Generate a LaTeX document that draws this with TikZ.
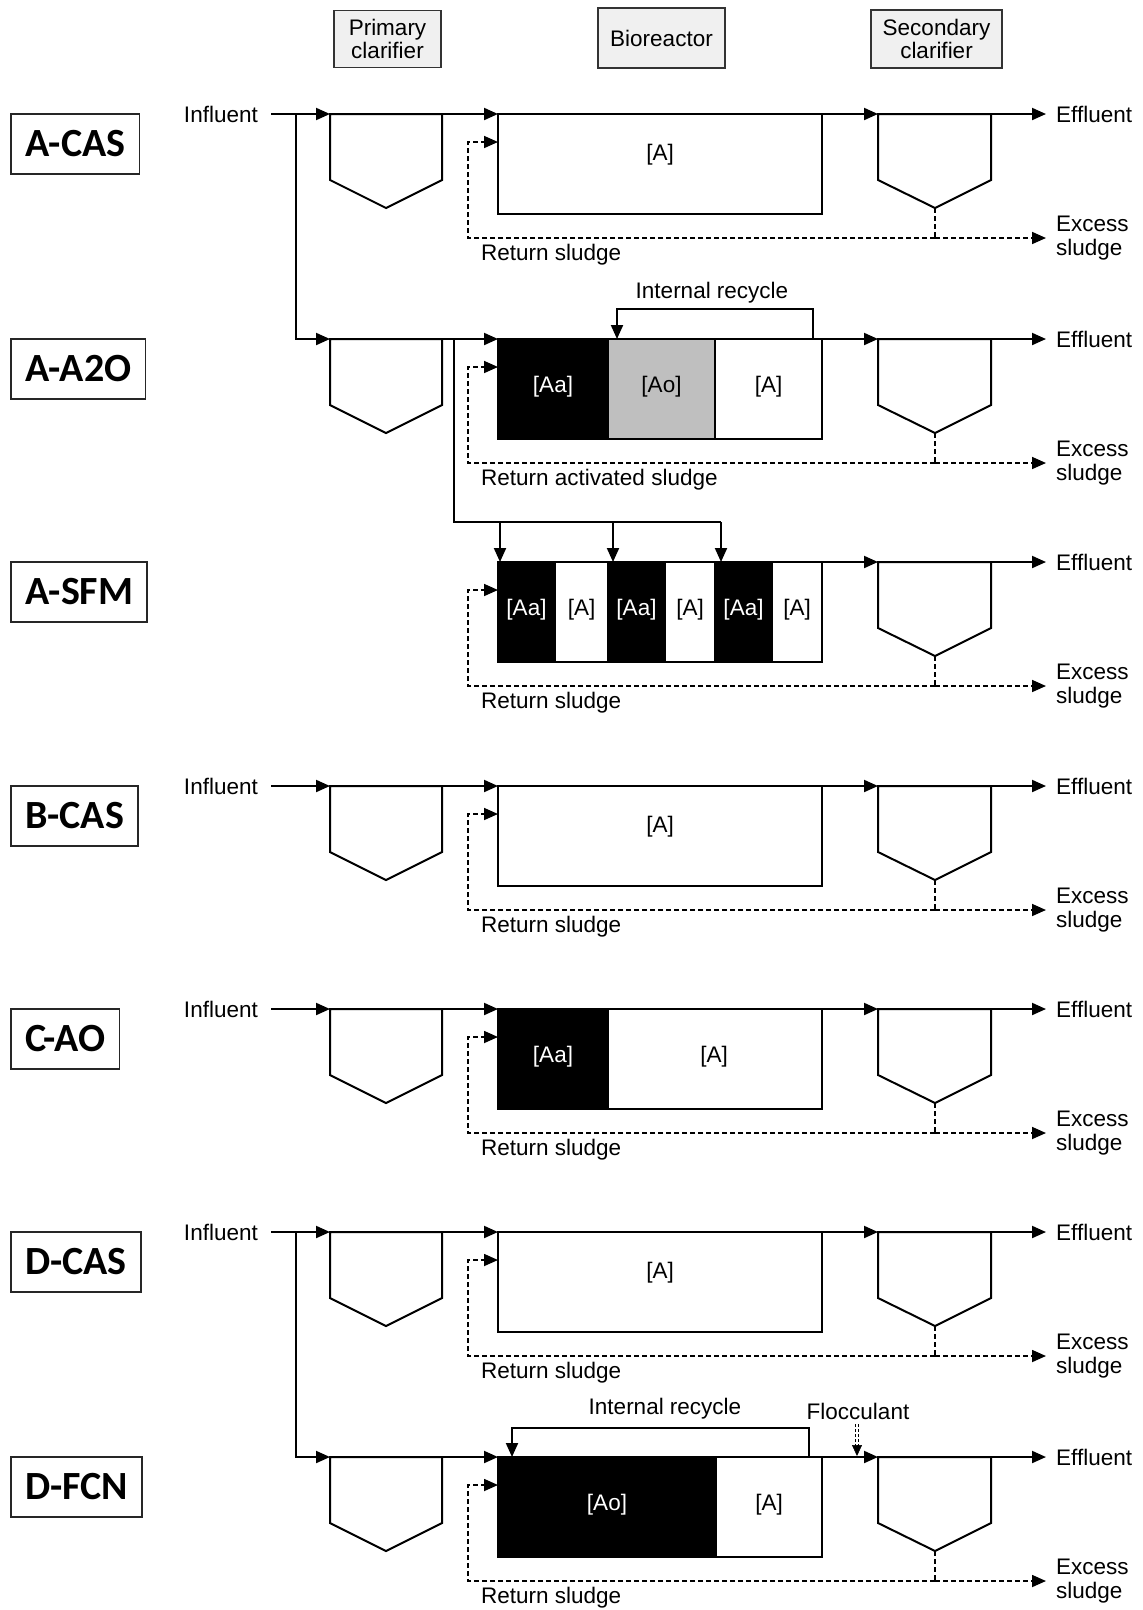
\documentclass[tikz,border=0pt]{standalone}
\usepackage{fontspec}
\setmainfont{Liberation Sans}
\newfontfamily\lblfont{Carlito}
\usetikzlibrary{arrows.meta}

\newcommand{\PrimC}[2]{%
  \coordinate (#1pi) at (330,#2);
  \coordinate (#1po) at (442,#2);
  \draw[ln] (#1pi) -- (330,#2+66) -- (386,#2+94) -- (442,#2+66) -- (#1po) -- cycle;}

\newcommand{\SecC}[2]{%
  \coordinate (#1si) at (878,#2);
  \coordinate (#1so) at (991,#2);
  \coordinate (#1sb) at (935,#2+94);
  \coordinate (#1j) at (935,#2+124);
  \draw[ln] (#1si) -- (878,#2+66) -- (#1sb) -- (991,#2+66) -- (#1so) -- cycle;
  \node[txt, anchor=west, inner xsep=10pt] (#1eff) at (1046,#2) {Effluent};
  \node[txt, anchor=west, inner xsep=10pt, align=left, font=\fontsize{22.5}{24}\selectfont] (#1exc) at (1046,#2+124) {Excess\\sludge};
  \draw[ln,arr] (#1so) -- (#1eff.west);
  \draw[dsh] (#1sb) -- (#1j);
  \draw[dsh,arr] (#1j) -- (#1exc.west);}

\newcommand{\RetLoop}[3]{%
  \coordinate (#1rt) at (498,#2+28);
  \draw[dsh,arr] (#1j) -| (468,#2+28) -- (#1rt);
  \node[txt, anchor=base west] (#1ret) at (481,#2+146) {#3};}

\newcommand{\Influent}[2]{%
  \node[txt, anchor=east, inner xsep=13pt] (#1inf) at (271,#2) {Influent};
  \draw[ln,arr] (#1inf.east) -- (#1pi);}

\begin{document}
\begin{tikzpicture}[x=1pt,y=-1pt,
  ln/.style={line width=2pt},
  dsh/.style={line width=1.7pt, dash pattern=on 5pt off 3pt},
  arr/.style={-{Triangle[length=14pt,width=12pt]}},
  txt/.style={font=\fontsize{22.5}{22}\selectfont, inner sep=0pt},
  hdr/.style={draw=black!80, line width=1.5pt, fill=black!6, align=center,
    font=\fontsize{22.5}{23}\selectfont, inner sep=0pt, outer sep=0pt},
  tag/.style={draw=black!85, line width=1.5pt, font=\lblfont\bfseries\fontsize{40}{40}\selectfont,
    anchor=north west, minimum height=60pt, inner xsep=14pt, inner ysep=0pt, outer sep=0pt},
  seg/.style={draw, line width=2pt, anchor=north west, minimum height=100pt, inner sep=0pt, outer sep=0pt},
  wt/.style={txt, text=white},
  fl/.style={line width=1pt, dash pattern=on 3pt off 2pt},
]
\useasboundingbox (0,0) rectangle (1143,1610);

% headers
\node[hdr, minimum width=107pt, minimum height=57pt] (hP) at (387.5,39) {Primary\\clarifier};
\node[hdr, minimum width=127pt, minimum height=60pt] (hB) at (661.5,38) {Bioreactor};
\node[hdr, minimum width=131pt, minimum height=58pt] (hS) at (936.5,39) {Secondary\\clarifier};

% tags
\node[tag] (tA1) at (11,114) {A-CAS};
\node[tag] (tA2) at (11,339) {A-A2O};
\node[tag] (tA3) at (11,562) {A-SFM};
\node[tag] (tB) at (11,786) {B-CAS};
\node[tag] (tC) at (11,1009) {C-AO};
\node[tag] (tD1) at (11,1232) {D-CAS};
\node[tag] (tD2) at (11,1457) {D-FCN};

% ---------- A-CAS
\PrimC{a1}{114}
\node[seg, minimum width=324pt] (a1b) at (498,114) {};
\node[txt] (a1l) at (660,155) {[A]};
\SecC{a1}{114}
\Influent{a1}{114}
\draw[ln,arr] (a1po) -- (a1b.north west);
\draw[ln,arr] (a1b.north east) -- (a1si);
\RetLoop{a1}{114}{Return sludge}
\coordinate (a1br) at (296,114);

% ---------- A-A2O
\PrimC{a2}{339}
\draw[ln,arr] (a1br) |- (a2pi);
\node[seg, fill=black, minimum width=110pt] (a2b1) at (498,339) {};
\node[seg, fill=black!25, minimum width=107pt] (a2b2) at (608,339) {};
\node[seg, minimum width=107pt] (a2b3) at (715,339) {};
\node[wt] (a2l1) at (553,387) {[Aa]};
\node[txt] (a2l2) at (661.5,387) {[Ao]};
\node[txt] (a2l3) at (768.5,387) {[A]};
\SecC{a2}{339}
\draw[ln,arr] (a2po) -- (a2b1.north west);
\draw[ln,arr] (a2b3.north east) -- (a2si);
\RetLoop{a2}{339}{Return activated sludge}
\coordinate (a2r1) at (813,339);
\coordinate (a2r2) at (617,339);
\draw[ln,arr] (a2r1) -- (813,309) -| (a2r2);
\node[txt] (a2irl) at (712,293) {Internal recycle};
\coordinate (a2br) at (454,339);

% ---------- A-SFM
\coordinate (a3f1) at (500,522);
\coordinate (a3f2) at (613,522);
\coordinate (a3f3) at (721,522);
\coordinate (a3t1) at (500,562);
\coordinate (a3t2) at (613,562);
\coordinate (a3t3) at (721,562);
\draw[ln] (a2br) |- (a3f3);
\draw[ln,arr] (a3f1) -- (a3t1);
\draw[ln,arr] (a3f2) -- (a3t2);
\draw[ln,arr] (a3f3) -- (a3t3);
\node[seg, fill=black, minimum width=57pt] (a3b1) at (498,562) {};
\node[seg, minimum width=53pt] (a3b2) at (555,562) {};
\node[seg, fill=black, minimum width=57pt] (a3b3) at (608,562) {};
\node[seg, minimum width=50pt] (a3b4) at (665,562) {};
\node[seg, fill=black, minimum width=57pt] (a3b5) at (715,562) {};
\node[seg, minimum width=50pt] (a3b6) at (772,562) {};
\node[wt] (a3l1) at (526.5,610) {[Aa]};
\node[txt] (a3l2) at (581.5,610) {[A]};
\node[wt] (a3l3) at (636.5,610) {[Aa]};
\node[txt] (a3l4) at (690,610) {[A]};
\node[wt] (a3l5) at (743.5,610) {[Aa]};
\node[txt] (a3l6) at (797,610) {[A]};
\SecC{a3}{562}
\draw[ln,arr] (a3b6.north east) -- (a3si);
\RetLoop{a3}{562}{Return sludge}

% ---------- B-CAS
\PrimC{b}{786}
\node[seg, minimum width=324pt] (bb) at (498,786) {};
\node[txt] (bl) at (660,827) {[A]};
\SecC{b}{786}
\Influent{b}{786}
\draw[ln,arr] (bpo) -- (bb.north west);
\draw[ln,arr] (bb.north east) -- (bsi);
\RetLoop{b}{786}{Return sludge}

% ---------- C-AO
\PrimC{c}{1009}
\node[seg, fill=black, minimum width=110pt] (cb1) at (498,1009) {};
\node[seg, minimum width=214pt] (cb2) at (608,1009) {};
\node[wt] (cl1) at (553,1057) {[Aa]};
\node[txt] (cl2) at (714,1057) {[A]};
\SecC{c}{1009}
\Influent{c}{1009}
\draw[ln,arr] (cpo) -- (cb1.north west);
\draw[ln,arr] (cb2.north east) -- (csi);
\RetLoop{c}{1009}{Return sludge}

% ---------- D-CAS
\PrimC{d1}{1232}
\node[seg, minimum width=324pt] (d1b) at (498,1232) {};
\node[txt] (d1l) at (660,1273) {[A]};
\SecC{d1}{1232}
\Influent{d1}{1232}
\draw[ln,arr] (d1po) -- (d1b.north west);
\draw[ln,arr] (d1b.north east) -- (d1si);
\RetLoop{d1}{1232}{Return sludge}
\coordinate (d1br) at (296,1232);

% ---------- D-FCN
\PrimC{d2}{1457}
\draw[ln,arr] (d1br) |- (d2pi);
\node[seg, fill=black, minimum width=218pt] (d2b1) at (498,1457) {};
\node[seg, minimum width=106pt] (d2b2) at (716,1457) {};
\node[wt] (d2l1) at (607,1505) {[Ao]};
\node[txt] (d2l2) at (769,1505) {[A]};
\SecC{d2}{1457}
\draw[ln,arr] (d2po) -- (d2b1.north west);
\draw[ln,arr] (d2b2.north east) -- (d2si);
\RetLoop{d2}{1457}{Return sludge}
\coordinate (d2r1) at (809,1457);
\coordinate (d2r2) at (512,1457);
\draw[ln,arr] (d2r1) -- (809,1428) -| (d2r2);
\node[txt] (d2irl) at (665,1409) {Internal recycle};
\node[txt] (floc) at (858,1411) {Flocculant};
\coordinate (flS) at (857,1424);
\coordinate (flT) at (857,1456);
\draw[fl] ([xshift=-1.7pt]flS) -- ([xshift=-1.7pt,yshift=9pt]flT);
\draw[fl] ([xshift=1.7pt]flS) -- ([xshift=1.7pt,yshift=9pt]flT);
\draw[line width=0.5pt, -{Triangle[length=11pt,width=10pt]}] ([yshift=11pt]flT) -- (flT);
\end{tikzpicture}
\end{document}
